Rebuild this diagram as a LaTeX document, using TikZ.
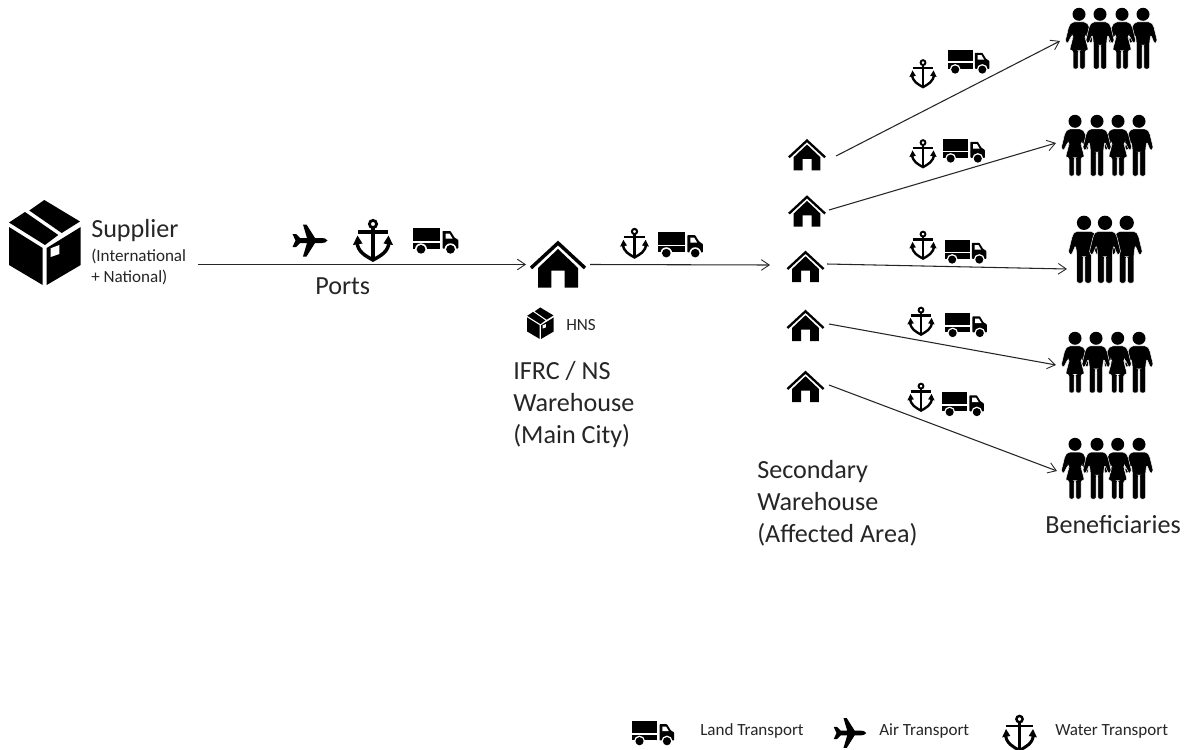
\documentclass[tikz,border=0pt]{standalone}
\usepackage{fontspec}
\setmainfont{Carlito}
\usetikzlibrary{arrows.meta}
\definecolor{ink}{HTML}{262626}
\tikzset{
  x=0.75pt,y=-0.75pt,
  link/.style={line width=0.8pt,black!85,-{Straight Barb[length=6pt,width=8pt,line width=0.65pt]}},
  hit/.style={inner sep=0pt,outer sep=0pt,minimum height=1pt,minimum width=#1*0.75pt},
  lab/.style={anchor=west,inner sep=0pt,align=left,text=ink,font=\fontsize{19.6}{24}\selectfont},
  sublab/.style={anchor=west,inner sep=0pt,align=left,text=ink,font=\fontsize{12.8}{15.75}\selectfont},
  leglab/.style={anchor=base west,inner sep=0pt,text=ink,font=\fontsize{12.8}{15.75}\selectfont},
  pics/boxicon/.style={code={\begin{scope}[scale=#1]
    \fill (-36,-15)--(-2.3,6)--(-2.3,43)--(-36,23)--cycle;
    \fill (1.7,6)--(35.7,-15)--(35.7,23)--(1.7,43)--cycle;
    \fill (-0.7,-42)--(35,-20.5)--(16.7,-9)--(-15.7,-31.5)--cycle;
    \fill (-20,-30)--(13.3,-7)--(0,3)--(-36,-19.5)--cycle;
    \fill[white] (5.7,6.3)--(14.3,3)--(14.3,12)--(5.7,15)--cycle;
  \end{scope}}},
  pics/anchoricon/.style={code={\begin{scope}[scale=#1]
    \draw[line width=#1*2.1pt] (0,-16) circle (3.6);
    \draw[line width=#1*2.4pt] (-15,-8)--(15,-8);
    \draw[line width=#1*2.8pt] (0,-12)--(0,19);
    \draw[line width=#1*2.6pt] (-16,1) .. controls (-16,12) and (-7,16) .. (0,20) .. controls (7,16) and (16,12) .. (16,1);
    \fill (-20,5)--(-15.5,-4.5)--(-10.5,3.5)--cycle;
    \fill (20,5)--(15.5,-4.5)--(10.5,3.5)--cycle;
  \end{scope}}},
  pics/truckicon/.style={code={\begin{scope}[scale=#1]
    \fill (-22.8,-12.8) rectangle (4.8,0);
    \fill (-22.8,2) rectangle (4.8,8);
    \fill[rounded corners=0.5pt] (7,-9.5)--(15,-9.5)--(19,-3)--(22.8,-0.5)--(22.8,8)--(7,8)--cycle;
    \fill[white] (10,-7)--(14,-7)--(17,-2)--(10,-2)--cycle;
    \fill[white] (-14.5,8.8) circle (6) (15,8.8) circle (6);
    \fill (-14.5,8.8) circle (4.4) (15,8.8) circle (4.4);
  \end{scope}}},
  pics/planeicon/.style={code={\begin{scope}[scale=#1]
    \fill (17.5,0)..controls (16,-2) and (14,-2.5)..(12,-2.5)--(5,-2.5)--(-3.5,-16)--(-7,-16)--(-3,-2.5)--(-10,-2.5)--(-14,-6.5)--(-17.5,-6.5)--(-14.5,0)--(-17.5,6.5)--(-14,6.5)--(-10,2.5)--(-3,2.5)--(-7,16)--(-3.5,16)--(5,2.5)--(12,2.5)..controls (14,2.5) and (16,2)..(17.5,0)--cycle;
  \end{scope}}},
  pics/houseicon/.style={code={\begin{scope}[scale=#1]
    \fill (0,-14.5)--(20,4.5)--(20,24)--(6.7,24)--(6.7,7)--(-6.7,7)--(-6.7,24)--(-20,24)--(-20,4.5)--cycle;
    \draw[line width=#1*2.6pt,miter limit=4] (-27,4.5)--(0,-20.5)--(27,4.5);
  \end{scope}}},
  pics/manicon/.style={code={
    \fill (0,-24.7) circle (6.5);
    \fill[draw=white,line width=0.35pt,rounded corners=1.5pt] (-8,-17)--(8,-17)--(10.5,-13.5)--(14.5,3)--(11.5,4.8)--(7.8,-4)--(6.6,3)--(6.6,30)--(0.8,30)--(0.8,6)--(-0.8,6)--(-0.8,30)--(-6.6,30)--(-6.6,3)--(-7.8,-4)--(-11.5,4.8)--(-14.5,3)--(-10.5,-13.5)--cycle;
  }},
  pics/womanicon/.style={code={
    \fill (0,-24.7) circle (6.5);
    \fill[draw=white,line width=0.35pt,rounded corners=1.5pt] (-7,-17)--(7,-17)--(10,-13.5)--(14,3)--(11.5,4.8)--(7,-4)--(6,-2)--(9.5,11.5)--(6,11.5)--(6,30)--(0.8,30)--(0.8,11.5)--(-0.8,11.5)--(-0.8,30)--(-6,30)--(-6,11.5)--(-9.5,11.5)--(-6,-2)--(-7,-4)--(-11.5,4.8)--(-14,3)--(-10,-13.5)--cycle;
  }},
}
\begin{document}
\begin{tikzpicture}
\useasboundingbox (0,0) rectangle (1187,749);
\fill[white] (0,0) rectangle (1187,749);

% supplier
\pic at (45,242) {boxicon=1};
\node[lab] (supplier) at (91,231) {Supplier};
\node[sublab] (suppliernote) at (91,266.5) {(International\\+ National)};
\coordinate (supout) at (198,264.5);

% ports
\pic at (310,240.5) {planeicon=1};
\pic at (373,240) {anchoricon=1};
\pic at (435.5,240.5) {truckicon=1};
\node[lab] (ports) at (315,286) {Ports};

% main warehouse
\pic at (558,263.5) {houseicon=1};
\node[hit=64] (mainhouse) at (558,264.5) {};
\pic at (540.5,323) {boxicon=0.37};
\node[sublab] (hns) at (566,325) {HNS};
\node[lab] (mainlab) at (513,405) {IFRC / NS\\Warehouse\\(Main City)};
\pic at (634.5,243) {anchoricon=0.72};
\pic at (680.5,244.5) {truckicon=0.98};

% secondary warehouses
\pic at (807,154.3) {houseicon=0.67};
\pic at (807,210.6) {houseicon=0.67};
\pic at (805.5,266) {houseicon=0.67};
\pic at (805.5,325) {houseicon=0.67};
\pic at (805.5,386) {houseicon=0.67};
\node[hit=58] (h1) at (807,156) {};
\node[hit=44] (h2) at (807,210) {};
\node[hit=43] (h3) at (805.5,264) {};
\node[hit=47] (h4) at (805.5,324) {};
\node[hit=47] (h5) at (805.5,385) {};
\coordinate (secin) at (770,265);
\node[lab] (seclab) at (757,503) {Secondary\\Warehouse\\(Affected Area)};

% transport icons on branches
\pic at (923,73.5) {anchoricon=0.68};
\pic at (968.5,61.5) {truckicon=0.92};
\pic at (923,153.5) {anchoricon=0.68};
\pic at (964,150.5) {truckicon=0.92};
\pic at (923,245) {anchoricon=0.68};
\pic at (965.5,251.5) {truckicon=0.92};
\pic at (921,321) {anchoricon=0.68};
\pic at (966,325) {truckicon=0.92};
\pic at (921,397) {anchoricon=0.68};
\pic at (963,404) {truckicon=0.92};

% beneficiaries
\pic at (1079,39) {womanicon};
\pic at (1143,39) {manicon};
\pic at (1122,39) {womanicon};
\pic at (1100,39) {manicon};

\pic at (1139,146) {manicon};
\pic at (1118,146) {womanicon};
\pic at (1075,146) {womanicon};
\pic at (1097,146) {manicon};

\begin{scope}[shift={(0,250)}]
\pic[scale=1.1] at (1084,0) {manicon};
\pic[scale=1.1] at (1126.7,0) {manicon};
\pic[scale=1.1] at (1105,0) {manicon};
\end{scope}

\begin{scope}[yscale=0.85]
\pic at (1075,427) {womanicon};
\pic at (1139,427) {manicon};
\pic at (1117.7,427) {womanicon};
\pic at (1096,427) {manicon};
\pic at (1075,551.8) {womanicon};
\pic at (1139,551.8) {manicon};
\pic at (1117.7,551.8) {womanicon};
\pic at (1097,551.8) {manicon};
\end{scope}

\node[hit=0] (p1) at (1060,41) {};
\node[hit=0] (p2) at (1056,143) {};
\node[hit=0] (p3) at (1067,269) {};
\node[hit=0] (p4) at (1056,365) {};
\node[hit=0] (p5) at (1057,471) {};
\node[lab] (benlab) at (1045,525) {Beneficiaries};

% connectors
\draw[link] (supout) -- (mainhouse.west);
\draw[link] (mainhouse.east) -- (secin);
\draw[link] (h1.east) -- (p1);
\draw[link] (h2.east) -- (p2);
\draw[link] (h3.east) -- (p3);
\draw[link] (h4.east) -- (p4);
\draw[link] (h5.east) -- (p5);

% legend
\pic at (653,733) {truckicon=0.93};
\node[leglab] (legland) at (700,735) {Land Transport};
\pic at (850,733) {planeicon=0.93};
\node[leglab] (legair) at (879,735) {Air Transport};
\pic at (1019.5,733) {anchoricon=0.87};
\node[leglab] (legwater) at (1055,735) {Water Transport};
\end{tikzpicture}
\end{document}
